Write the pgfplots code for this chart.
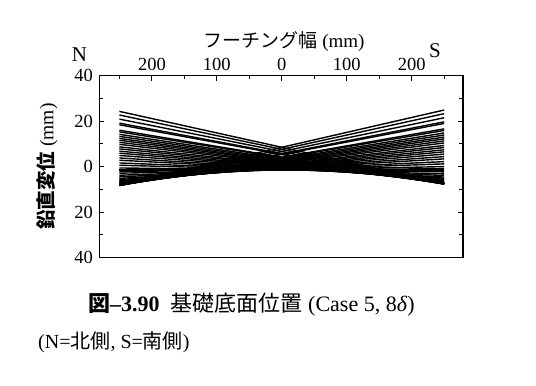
\documentclass[border=0pt]{standalone}
\usepackage{pgfplots}
\pgfplotsset{compat=1.18}
\usepackage{fontspec}
\setmainfont{Liberation Serif}
\newfontfamily\jp{Noto Sans CJK JP}
\newcommand{\fs}[1]{\fontsize{#1bp}{#1bp}\selectfont}
\begin{document}
\begin{tikzpicture}[x=1bp,y=1bp]
\useasboundingbox (0,0) rectangle (536,385);
\begin{axis}[
  at={(99.3bp,127.5bp)}, anchor=south west,
  scale only axis, width=363.7bp, height=181.8bp,
  xmin=-281, xmax=279, ymin=-40, ymax=40,
  axis line style={line width=1.2bp},
  every tick/.style={black, line width=1bp},
  tick align=inside,
  major tick length=5bp, minor tick length=3.6bp,
  xtick={-200,-100,0,100,200},
  xticklabels={200,100,0,100,200},
  minor xtick={-250,-150,-50,50,150,250},
  xtick pos=upper, xticklabel pos=upper,
  ytick={-40,-20,0,20,40},
  yticklabels={40,20,0,20,40},
  minor ytick={-30,-10,10,30},
  ytick pos=both, yticklabel pos=lower,
  /pgf/number format/assume math mode=true,
  tick label style={font=\fs{18.5}},
  xticklabel style={yshift=2bp},
  yticklabel style={xshift=-3bp},
  clip=false,
  ln/.style={black, line width=1.4bp, no markers},
]
% left side high (N side up)
\addplot[ln] coordinates {(-250,24.3) (250,-7.3)};
\addplot[ln] coordinates {(-250,22.7) (250,-7.5)};
\addplot[ln] coordinates {(-250,20.9) (250,-7.6)};
\addplot[ln] coordinates {(-250,19.1) (250,-7.7)};
\addplot[ln] coordinates {(-250,18.4) (250,-7.7)};
\addplot[ln] coordinates {(-250,16.0) (250,-7.7)};
\addplot[ln] coordinates {(-250,15.3) (250,-7.6)};
\addplot[ln] coordinates {(-250,14.2) (250,-7.6)};
\addplot[ln] coordinates {(-250,13.3) (250,-7.5)};
\addplot[ln] coordinates {(-250,12.4) (250,-7.4)};
\addplot[ln] coordinates {(-250,11.6) (250,-7.3)};
\addplot[ln] coordinates {(-250,10.7) (250,-7.2)};
\addplot[ln] coordinates {(-250,9.8) (250,-7.0)};
\addplot[ln] coordinates {(-250,8.7) (250,-6.8)};
\addplot[ln] coordinates {(-250,7.8) (250,-6.5)};
\addplot[ln] coordinates {(-250,6.8) (250,-6.2)};
\addplot[ln] coordinates {(-250,5.9) (250,-5.9)};
\addplot[ln] coordinates {(-250,4.9) (250,-5.6)};
\addplot[ln] coordinates {(-250,3.8) (250,-5.1)};
\addplot[ln] coordinates {(-250,2.8) (250,-4.6)};
\addplot[ln] coordinates {(-250,1.6) (250,-3.9)};
\addplot[ln] coordinates {(-250,0.6) (250,-3.2)};
\addplot[ln] coordinates {(-250,-0.6) (250,-2.3)};
\addplot[ln] coordinates {(-250,-1.5) (250,-1.5)};
% right side high (S side up)
\addplot[ln] coordinates {(-250,-7.9) (250,24.9)};
\addplot[ln] coordinates {(-250,-8.1) (250,23.3)};
\addplot[ln] coordinates {(-250,-8.2) (250,21.5)};
\addplot[ln] coordinates {(-250,-8.3) (250,19.7)};
\addplot[ln] coordinates {(-250,-8.3) (250,19.0)};
\addplot[ln] coordinates {(-250,-8.3) (250,16.6)};
\addplot[ln] coordinates {(-250,-8.2) (250,15.9)};
\addplot[ln] coordinates {(-250,-8.2) (250,14.8)};
\addplot[ln] coordinates {(-250,-8.1) (250,13.9)};
\addplot[ln] coordinates {(-250,-8.0) (250,13.0)};
\addplot[ln] coordinates {(-250,-7.9) (250,12.2)};
\addplot[ln] coordinates {(-250,-7.8) (250,11.3)};
\addplot[ln] coordinates {(-250,-7.6) (250,10.4)};
\addplot[ln] coordinates {(-250,-7.4) (250,9.3)};
\addplot[ln] coordinates {(-250,-7.1) (250,8.4)};
\addplot[ln] coordinates {(-250,-6.8) (250,7.4)};
\addplot[ln] coordinates {(-250,-6.5) (250,6.5)};
\addplot[ln] coordinates {(-250,-6.2) (250,5.5)};
\addplot[ln] coordinates {(-250,-5.7) (250,4.4)};
\addplot[ln] coordinates {(-250,-5.2) (250,3.4)};
\addplot[ln] coordinates {(-250,-4.5) (250,2.2)};
\addplot[ln] coordinates {(-250,-3.8) (250,1.2)};
\addplot[ln] coordinates {(-250,-2.9) (250,0.0)};
\addplot[ln] coordinates {(-250,-2.1) (250,-0.9)};
\end{axis}
% texts
\node[inner sep=0] at (284,343) {\jp\fs{19}フーチング幅\rmfamily\fs{19} (mm)};
\node[inner sep=0] at (79.5,330) {\fs{21}N};
\node[inner sep=0] at (435,334) {\fs{21}S};
\node[inner sep=0, rotate=90] at (47,218.5) {\jp\bfseries\fs{19.5}鉛直変位\rmfamily\mdseries\fs{19.5} (mm)};
\node[inner sep=0, anchor=west] at (88,80) {\jp\bfseries\fs{22}図\rmfamily\bfseries–3.90\mdseries\hspace{0.5em}\jp 基礎底面位置\rmfamily{} (Case 5, 8\textit{δ})};
\node[inner sep=0, anchor=west] at (38,43) {\fs{20}(N=\jp 北側\rmfamily, S=\jp 南側\rmfamily)};
\end{tikzpicture}
\end{document}
